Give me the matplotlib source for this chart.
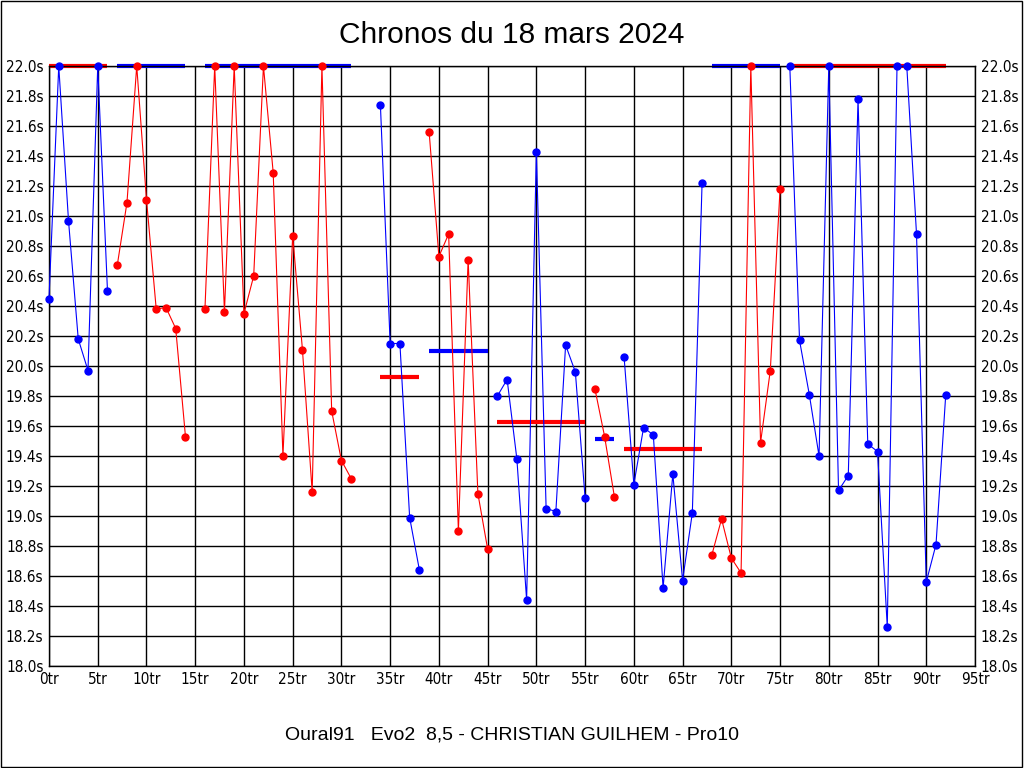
import matplotlib
matplotlib.use("Agg")
import matplotlib.pyplot as plt
from matplotlib.patches import Rectangle
from matplotlib import font_manager

# --- Donnees : temps au tour par relais (valeurs > 22.0s ecretees a 22.0) ---
laps_1 = list(range(0, 7))
times_1 = [20.45, 22.0, 20.97, 20.18, 19.97, 22.0, 20.50]
laps_2 = list(range(7, 15))
times_2 = [20.67, 21.09, 22.0, 21.11, 20.38, 20.39, 20.25, 19.53]
laps_3 = list(range(16, 32))
times_3 = [20.38, 22.0, 20.36, 22.0, 20.35, 20.60, 22.0, 21.29,
           19.40, 20.87, 20.11, 19.16, 22.0, 19.70, 19.37, 19.25]
laps_4 = list(range(34, 39))
times_4 = [21.74, 20.15, 20.15, 18.99, 18.64]
laps_5 = list(range(39, 46))
times_5 = [21.56, 20.73, 20.88, 18.90, 20.71, 19.15, 18.78]
laps_6 = list(range(46, 56))
times_6 = [19.80, 19.91, 19.38, 18.44, 21.43, 19.05, 19.03, 20.14, 19.96, 19.12]
laps_7 = list(range(56, 59))
times_7 = [19.85, 19.53, 19.13]
laps_8 = list(range(59, 68))
times_8 = [20.06, 19.21, 19.59, 19.54, 18.52, 19.28, 18.57, 19.02, 21.22]
laps_9 = list(range(68, 76))
times_9 = [18.74, 18.98, 18.72, 18.62, 22.0, 19.49, 19.97, 21.18]
laps_10 = list(range(76, 93))
times_10 = [22.0, 20.17, 19.81, 19.40, 22.0, 19.17, 19.27, 21.78, 19.48,
            19.43, 18.26, 22.0, 22.0, 20.88, 18.56, 18.81, 19.81]

stint_colors = ['blue', 'red', 'red', 'blue', 'red', 'blue', 'red', 'blue', 'red', 'blue']
# moyenne de chaque relais (ecretee a 22.0s)
stint_avg = [22.0, 22.0, 22.0, 19.93, 20.10, 19.63, 19.51, 19.45, 22.0, 22.0]

y_ticks = [18.0 + 0.2 * i for i in range(21)]
x_ticks = list(range(0, 96, 5))

stints = [(laps_1, times_1), (laps_2, times_2), (laps_3, times_3), (laps_4, times_4),
          (laps_5, times_5), (laps_6, times_6), (laps_7, times_7), (laps_8, times_8),
          (laps_9, times_9), (laps_10, times_10)]
other = {'blue': 'red', 'red': 'blue'}

# police etroite pour les graduations
tick_font = font_manager.FontProperties(family='DejaVu Sans', stretch='condensed', size=11)

fig = plt.figure(figsize=(10.24, 7.68), dpi=100)
ax = fig.add_axes([49 / 1024, 102 / 768, 926 / 1024, 600 / 768])

# lignes de moyenne (couleur opposee au relais)
for (laps, times), col, avg in zip(stints, stint_colors, stint_avg):
    ax.plot([laps[0], laps[-1]], [avg, avg], color=other[col], linewidth=3,
            solid_capstyle='butt', clip_on=False, zorder=2)

# temps au tour
for (laps, times), col in zip(stints, stint_colors):
    ax.plot(laps, times, color=col, linewidth=0.8, marker='o', markersize=5,
            clip_on=False, zorder=3)

ax.set_xlim(0, 95)
ax.set_ylim(18.0, 22.0)
ax.set_xticks(x_ticks)
ax.set_xticklabels([f"{t}tr" for t in x_ticks])
ax.set_yticks(y_ticks)
ax.set_yticklabels([f"{t:.1f}s" for t in y_ticks])
ax.grid(True, color='black', linewidth=1)
ax.set_axisbelow(True)
ax.tick_params(length=0, labelright=True, pad=4)
for lab in ax.xaxis.get_ticklabels(which='both') + ax.yaxis.get_ticklabels(which='both'):
    lab.set_fontproperties(tick_font)
for t in ax.yaxis.get_major_ticks():
    t.label2.set_fontproperties(tick_font)
for s in ax.spines.values():
    s.set_linewidth(1)

fig.text(0.5, 1 - 35 / 768, "Chronos du 18 mars 2024", ha='center', va='center',
         fontsize=21.5, family='Liberation Sans')
fig.text(0.5, 1 - 735 / 768, "Oural91   Evo2  8,5 - CHRISTIAN GUILHEM - Pro10",
         ha='center', va='center', fontsize=14, family='Liberation Sans')

# cadre autour de l'image
fig.patches.append(Rectangle((0.0005, 0.0007), 0.998, 0.998, transform=fig.transFigure,
                             fill=False, edgecolor='black', linewidth=1))

plt.savefig('out.png', dpi=100)
